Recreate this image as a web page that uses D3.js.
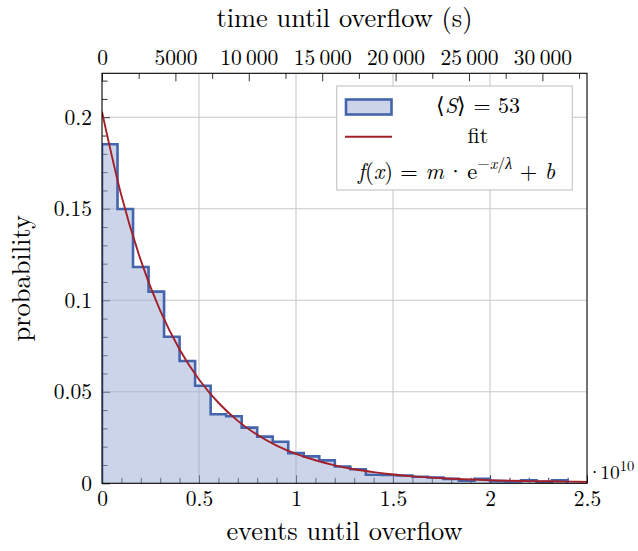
<!DOCTYPE html>
<html>
<head>
<meta charset="utf-8">
<script src="https://cdn.jsdelivr.net/npm/d3@7"></script>
<style>
  body { margin: 0; background: #fff; }
  svg { display: block; }
</style>
</head>
<body>
<svg></svg>
<script>
// histogram: 30 bins of 0.08e10 events
const binWidth = 0.08;
const binProb = [0.1852, 0.1499, 0.1182, 0.1047, 0.0801, 0.0668, 0.0533, 0.0377, 0.0366, 0.0304,
                 0.0255, 0.0227, 0.0165, 0.0147, 0.0125, 0.0092, 0.0077, 0.0047, 0.0045, 0.0043,
                 0.0036, 0.0032, 0.0024, 0.0014, 0.0024, 0.0012, 0.0010, 0.0016, 0.0008, 0.0016];

// fit curve
const fitX = [0, 0.1, 0.2, 0.3, 0.4, 0.5, 0.6, 0.7, 0.8, 0.9, 1.0, 1.1, 1.2,
              1.3, 1.4, 1.5, 1.6, 1.7, 1.8, 1.9, 2.0, 2.1, 2.2, 2.3, 2.4, 2.5];
const fitY = [0.2030, 0.1572, 0.1218, 0.0943, 0.0731, 0.0567, 0.0440, 0.0341, 0.0265, 0.0206,
              0.0161, 0.0126, 0.0098, 0.0077, 0.0061, 0.0048, 0.0038, 0.0031, 0.0025, 0.0021,
              0.0017, 0.0014, 0.0012, 0.0011, 0.0009, 0.0008];

const xTicks = [0, 0.5, 1, 1.5, 2, 2.5];
const yTicks = [0, 0.05, 0.1, 0.15, 0.2];
const topTicks = [0, 5000, 10000, 15000, 20000, 25000, 30000];
const topMinor = [2500, 7500, 12500, 17500, 22500, 27500, 32500];

var margin = {top: 73.3, right: 51, bottom: 67.7, left: 102};
var W = 638, H = 551;
var width = W - margin.left - margin.right;
var height = H - margin.top - margin.bottom;

const serif = '"Latin Modern Roman", "Liberation Serif", serif';
const blue = 'rgb(68,100,173)';
const red = '#a3202a';
const gridCol = '#c8c8c8';

const svg = d3.select('svg').attr('width', W).attr('height', H);
const g = svg.append('g').attr('transform', `translate(${margin.left},${margin.top})`);

var xs = d3.scaleLinear().domain([0, 2.5]).range([0, width]);
var ys = d3.scaleLinear().domain([0, 0.224]).range([height, 0]);
var xt = d3.scaleLinear().domain([0, 33040]).range([0, width]);

svg.append('defs').append('clipPath').attr('id', 'clip')
   .append('rect').attr('width', width).attr('height', height);

// grid
g.append('g').selectAll('line').data(xTicks.slice(1, -1)).enter().append('line')
   .attr('x1', d => xs(d)).attr('x2', d => xs(d)).attr('y1', 0).attr('y2', height)
   .attr('stroke', gridCol).attr('stroke-width', 1.1);
g.append('g').selectAll('line').data(yTicks.slice(1)).enter().append('line')
   .attr('x1', 0).attr('x2', width).attr('y1', d => ys(d)).attr('y2', d => ys(d))
   .attr('stroke', gridCol).attr('stroke-width', 1.1);

function styleAxis(sel, size) {
    sel.select('.domain').remove();
    sel.attr('font-family', null).attr('font-size', null);
    sel.selectAll('line').attr('stroke', '#333').attr('stroke-width', 1);
    sel.selectAll('text').style('font-size', size + 'px').style('font-family', serif);
}

// bottom axis
const xMinor = d3.range(0, 2.51, 0.1).map(d => +d.toFixed(1)).filter(d => xTicks.indexOf(d) < 0);
g.append('g').attr('transform', `translate(0,${height})`)
   .call(d3.axisBottom(xs).tickValues(xMinor).tickFormat('').tickSizeInner(-5.5).tickSizeOuter(0))
   .call(s => styleAxis(s, 21.5));
g.append('g').attr('transform', `translate(0,${height})`)
   .call(d3.axisBottom(xs).tickValues(xTicks).tickFormat(d3.format('')).tickSizeInner(-8).tickSizeOuter(0).tickPadding(7.5))
   .call(s => styleAxis(s, 21.5));

// left axis
const yMinor = d3.range(0, 0.2205, 0.01).map(d => +d.toFixed(2)).filter(d => yTicks.indexOf(d) < 0);
g.append('g')
   .call(d3.axisLeft(ys).tickValues(yMinor).tickFormat('').tickSizeInner(-5.5).tickSizeOuter(0))
   .call(s => styleAxis(s, 21.5));
g.append('g')
   .call(d3.axisLeft(ys).tickValues(yTicks).tickFormat(d3.format('')).tickSizeInner(-8).tickSizeOuter(0).tickPadding(10))
   .call(s => styleAxis(s, 21.5));

// top axis (time)
g.append('g')
   .call(d3.axisTop(xt).tickValues(topMinor).tickFormat('').tickSizeInner(-5.5).tickSizeOuter(0))
   .call(s => styleAxis(s, 21.5));
g.append('g')
   .call(d3.axisTop(xt).tickValues(topTicks)
        .tickFormat(d => d >= 10000 ? d3.format(',')(d).replace(',', '\u2009') : d)
        .tickSizeInner(-8).tickSizeOuter(0).tickPadding(8.5))
   .call(s => styleAxis(s, 21.5));

// histogram
const steps = [{x: 0, y: 0}];
binProb.forEach((v, i) => steps.push({x: i * binWidth, y: v}));
steps.push({x: binProb.length * binWidth, y: binProb[binProb.length - 1]});
steps.push({x: binProb.length * binWidth, y: 0});

const hist = g.append('g').attr('clip-path', 'url(#clip)');
hist.append('path')
   .datum(steps.slice(1, -1))
   .attr('d', d3.area().curve(d3.curveStepAfter).x(d => xs(d.x)).y0(ys(0)).y1(d => ys(d.y)))
   .attr('fill', 'rgb(151,169,209)').attr('fill-opacity', 0.5);
hist.append('path')
   .datum(steps)
   .attr('d', d3.line().curve(d3.curveStepAfter).x(d => xs(d.x)).y(d => ys(d.y)))
   .attr('fill', 'none').attr('stroke', blue).attr('stroke-width', 2.6);

// fit
hist.append('path')
   .datum(fitX.map((x, i) => ({x: x, y: fitY[i]})))
   .attr('d', d3.line().curve(d3.curveMonotoneX).x(d => xs(d.x)).y(d => ys(d.y)))
   .attr('fill', 'none').attr('stroke', red).attr('stroke-width', 1.9);

// frame
g.append('rect').attr('width', width).attr('height', height)
   .attr('fill', 'none').attr('stroke', '#000').attr('stroke-width', 1.1);

function label(sel) {
    return sel.append('text').style('font-family', serif).attr('fill', '#000');
}

// axis titles
label(svg).attr('x', margin.left + width / 2).attr('y', 540)
   .attr('text-anchor', 'middle').style('font-size', '26.4px').text('events until overflow');
label(svg).attr('x', margin.left + width / 2).attr('y', 27)
   .attr('text-anchor', 'middle').style('font-size', '26.4px').text('time until overflow (s)');
label(svg).attr('transform', `translate(30,${margin.top + height / 2}) rotate(-90)`)
   .attr('text-anchor', 'middle').style('font-size', '26.4px').text('probability');

// scale factor
const sc = label(svg).attr('x', 587).attr('y', 479).style('font-size', '19.5px');
sc.append('tspan').text('\u00b7');
sc.append('tspan').attr('dx', -2).text('10');
sc.append('tspan').attr('dy', -8).style('font-size', '14.5px').text('10');

// legend
const lg = svg.append('g');
lg.append('rect').attr('x', 336.7).attr('y', 86).attr('width', 235.6).attr('height', 104)
   .attr('fill', '#fff').attr('stroke', '#c4c4c4').attr('stroke-width', 1.1);
lg.append('rect').attr('x', 346).attr('y', 99.5).attr('width', 45.5).attr('height', 15)
   .attr('fill', 'rgb(203,212,232)').attr('stroke', blue).attr('stroke-width', 2.6);
lg.append('line').attr('x1', 345).attr('x2', 392).attr('y1', 136.7).attr('y2', 136.7)
   .attr('stroke', red).attr('stroke-width', 1.9);

const t1 = label(lg).attr('x', 478).attr('y', 113).attr('text-anchor', 'middle').style('font-size', '22px');
t1.append('tspan').text('\u27e8');
t1.append('tspan').style('font-style', 'italic').text('S');
t1.append('tspan').text('\u27e9 = 53');

label(lg).attr('x', 478).attr('y', 143).attr('text-anchor', 'middle').style('font-size', '22px').text('fit');

const t3 = label(lg).attr('x', 456.5).attr('y', 179).attr('text-anchor', 'middle').style('font-size', '22.5px');
t3.append('tspan').style('font-style', 'italic').text('f');
t3.append('tspan').text('(');
t3.append('tspan').style('font-style', 'italic').text('x');
t3.append('tspan').text(') = ');
t3.append('tspan').style('font-style', 'italic').text('m');
t3.append('tspan').attr('dx', 3).text('\u00b7');
t3.append('tspan').attr('dx', 3).text('e');
t3.append('tspan').attr('dy', -10).style('font-size', '16px').text('\u2212');
t3.append('tspan').style('font-size', '16px').style('font-style', 'italic').text('x');
t3.append('tspan').style('font-size', '16px').text('/');
t3.append('tspan').style('font-size', '16px').style('font-style', 'italic').text('\u03bb');
t3.append('tspan').attr('dy', 10).text(' + ');
t3.append('tspan').style('font-style', 'italic').text('b');
</script>
</body>
</html>
